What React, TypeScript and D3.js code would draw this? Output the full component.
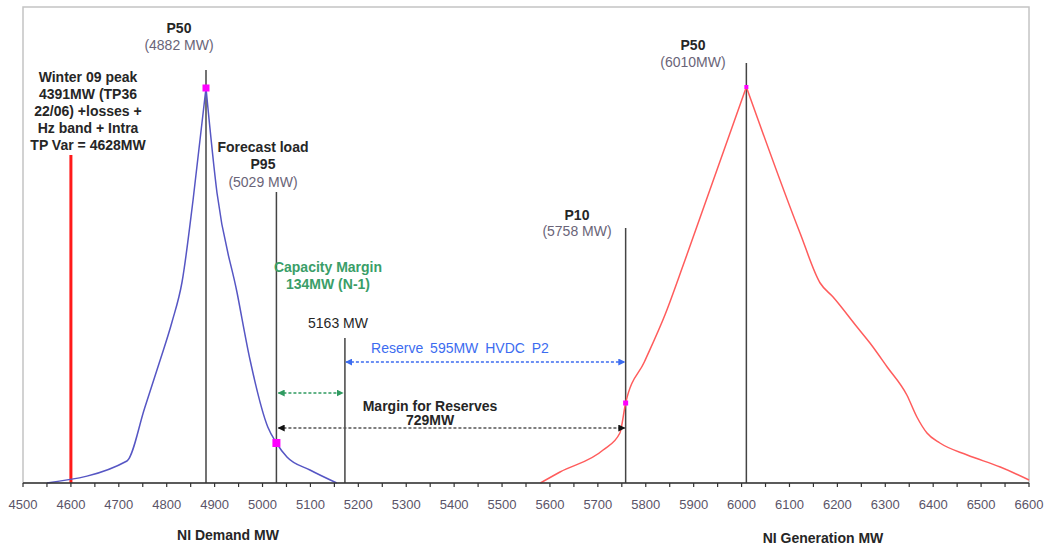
import React from "react";
import * as d3 from "d3";

// ---------- data ----------
const demandMW = [4550, 4717, 4754, 4785, 4811, 4832, 4855, 4882];
const demandDensity = [0, 5.5, 18.75, 30.25, 40.25, 50.25, 70.75, 98.75];
const demandMWRight = [4882, 4905, 4947, 4974, 5011, 5029, 5051, 5099, 5155];
const demandDensityRight = [98.75, 72.5, 47.5, 30.75, 14, 10, 6.5, 3.25, 0];

const genMW = [5580, 5621, 5711, 5746, 5758, 5797, 5840, 5882, 6010];
const genDensity = [0, 2.75, 8.25, 12.5, 20, 30.25, 42, 55.75, 99];
const genMWRight = [6010, 6122, 6164, 6191, 6241, 6268, 6304, 6345, 6366, 6387, 6414, 6471, 6540, 6600];
const genDensityRight = [99, 62.5, 50, 46.5, 39, 35, 29, 22, 16.5, 12.5, 10, 7, 4, 0.75];

const markerMW = [4882, 5029, 5172, 5758, 6010];
const markerTop = [103.25, 72.75, 36.25, 63.75, 105];

const winterPeakMW = 4600;
const winterPeakTop = 82;

const pointMW = [4882, 5029, 5758, 6010];
const pointDensity = [98.75, 10, 20, 99];
const pointSize = [7, 8, 5, 4];

const tickValues = d3.range(4500, 6601, 50);
const tickLabels = d3.range(4500, 6601, 100);

const winterLines = ["Winter 09 peak", "4391MW (TP36", "22/06) +losses +", "Hz band + Intra", "TP Var = 4628MW"];

export default function App() {
  const W = 1051, H = 550;
  const x = d3.scaleLinear().domain([4500, 6600]).range([23, 1029]);
  const y = d3.scaleLinear().domain([0, 100]).range([483, 83]);
  const line = d3
    .line<[number, number]>()
    .x((d) => x(d[0]))
    .y((d) => y(d[1]))
    .curve(d3.curveMonotoneX);
  const zip = (a: number[], b: number[]) => a.map((v, i) => [v, b[i]] as [number, number]);

  const font = "'Liberation Sans', Arial, sans-serif";
  const dark = "#262626";
  const muted = "#6a6478";
  const axisY = y(0);

  return (
    <svg width={W} height={H} style={{ position: "absolute", left: 0, top: 0, background: "#fff" }} fontFamily={font}>
      <defs>
        {[
          ["arrG", "#2f9a60"],
          ["arrB", "#3c6cf0"],
          ["arrK", "#111"],
        ].map(([id, c]) => (
          <marker key={id} id={id} viewBox="0 0 10 10" refX="9" refY="5" markerWidth="7" markerHeight="7" orient="auto-start-reverse" markerUnits="userSpaceOnUse">
            <path d="M0,0 L10,5 L0,10 z" fill={c} />
          </marker>
        ))}
      </defs>
      <rect x={0} y={0} width={W} height={H} fill="#fff" />
      {/* frame */}
      <rect x={x(4500)} y={7} width={x(6600) - x(4500)} height={axisY - 7} fill="none" stroke="#c4c4c4" strokeWidth={1.5} />

      {/* vertical marker lines */}
      {markerMW.map((m, i) => (
        <line key={"m" + i} x1={x(m)} x2={x(m)} y1={y(markerTop[i])} y2={axisY} stroke="#444" strokeWidth={1.5} />
      ))}
      <line x1={x(winterPeakMW)} x2={x(winterPeakMW)} y1={y(winterPeakTop)} y2={axisY} stroke="#ff1a1a" strokeWidth={3} />

      {/* curves */}
      <path d={line(zip(demandMW, demandDensity)) || ""} fill="none" stroke="#5656c4" strokeWidth={1.5} />
      <path d={line(zip(demandMWRight, demandDensityRight)) || ""} fill="none" stroke="#5656c4" strokeWidth={1.5} />
      <path d={line(zip(genMW, genDensity)) || ""} fill="none" stroke="#ff5c5c" strokeWidth={1.5} />
      <path d={line(zip(genMWRight, genDensityRight)) || ""} fill="none" stroke="#ff5c5c" strokeWidth={1.5} />

      {/* points */}
      {pointMW.map((m, i) => (
        <rect key={"p" + i} x={x(m) - pointSize[i] / 2} y={y(pointDensity[i]) - pointSize[i] / 2} width={pointSize[i]} height={pointSize[i]} fill="#ff00ff" />
      ))}

      {/* arrows */}
      <line x1={x(5029) + 2} x2={x(5172) - 2} y1={y(22.5)} y2={y(22.5)} stroke="#2f9a60" strokeWidth={1.5} strokeDasharray="3,2" markerStart="url(#arrG)" markerEnd="url(#arrG)" />
      <line x1={x(5172) + 1} x2={x(5758) - 1} y1={y(30.25)} y2={y(30.25)} stroke="#3c6cf0" strokeWidth={1.5} strokeDasharray="3,2" markerStart="url(#arrB)" markerEnd="url(#arrB)" />
      <line x1={x(5029) + 2} x2={x(5758) - 1} y1={y(13.75)} y2={y(13.75)} stroke="#555" strokeWidth={1.5} strokeDasharray="3,2" markerStart="url(#arrK)" markerEnd="url(#arrK)" />

      {/* axis */}
      <line x1={x(4500)} x2={x(6600)} y1={axisY} y2={axisY} stroke="#333" strokeWidth={1.5} />
      {tickValues.map((t) => (
        <line key={"t" + t} x1={x(t)} x2={x(t)} y1={axisY} y2={axisY + 4} stroke="#333" strokeWidth={1.2} />
      ))}
      {tickLabels.map((t) => (
        <text key={"l" + t} x={x(t)} y={509} textAnchor="middle" fontSize={13} fill="#5a5468">
          {t}
        </text>
      ))}

      {/* annotations */}
      <g textAnchor="middle" fontSize={14}>
        <text x={179} y={33} fontWeight="bold" fill={dark}>P50</text>
        <text x={179} y={50} fill={muted}>(4882 MW)</text>

        {winterLines.map((s, i) => (
          <text key={"w" + i} x={88} y={82 + i * 17} fontWeight="bold" fill={dark}>{s}</text>
        ))}

        <text x={263} y={152} fontWeight="bold" fill={dark}>Forecast load</text>
        <text x={263} y={169} fontWeight="bold" fill={dark}>P95</text>
        <text x={263} y={187} fill={muted}>(5029 MW)</text>

        <text x={328} y={272} fontWeight="bold" fill="#3a9e68">Capacity Margin</text>
        <text x={328} y={289} fontWeight="bold" fill="#3a9e68">134MW (N-1)</text>

        <text x={338} y={328} fill={dark}>5163 MW</text>

        <text x={460} y={353} fill="#3c6cf0" wordSpacing={3}>Reserve 595MW HVDC P2</text>

        <text x={430} y={411} fontWeight="bold" fill={dark}>Margin for Reserves</text>
        <text x={430} y={425} fontWeight="bold" fill={dark}>729MW</text>

        <text x={577} y={220} fontWeight="bold" fill={dark}>P10</text>
        <text x={577} y={236} fill={muted}>(5758 MW)</text>

        <text x={693} y={50} fontWeight="bold" fill={dark}>P50</text>
        <text x={693} y={67} fill={muted}>(6010MW)</text>

        <text x={228} y={540} fontWeight="bold" fill={dark}>NI Demand  MW</text>
        <text x={823} y={543} fontWeight="bold" fill={dark}>NI Generation  MW</text>
      </g>
    </svg>
  );
}
